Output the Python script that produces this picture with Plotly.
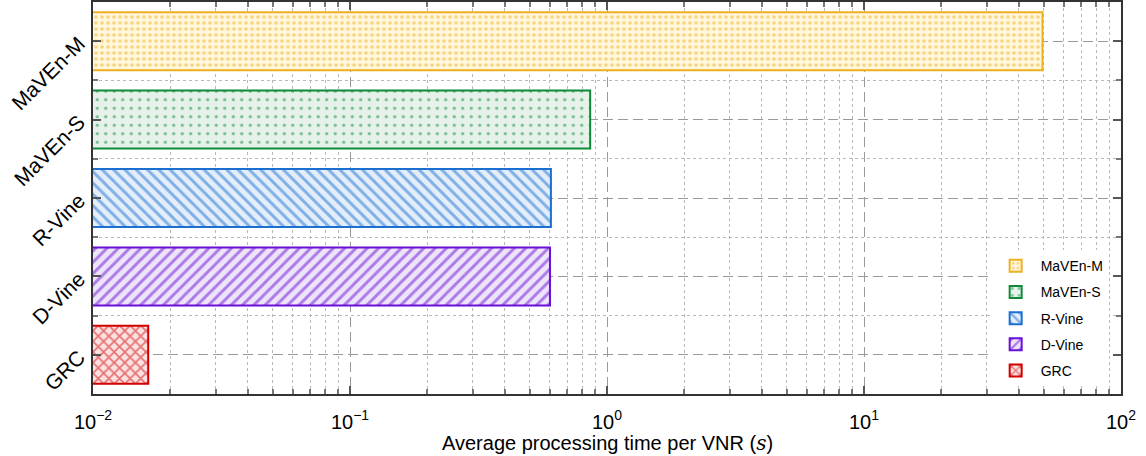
import plotly.graph_objects as go

methods = ["MaVEn-M", "MaVEn-S", "R-Vine", "D-Vine", "GRC"]
times = [49.5, 0.86, 0.605, 0.60, 0.0164]
line_colors = ["#EDB120", "#0F8A3C", "#1A6FD0", "#6A0FD6", "#D40000"]
fill_colors = ["rgba(255,246,220,1)", "rgba(230,242,233,1)", "rgba(228,238,250,1)",
               "rgba(238,228,250,1)", "rgba(250,226,226,1)"]
patterns = [".", ".", "\\", "/", "x"]
pattern_sizes = [6, 8.5, 8, 8, 7.5]
pattern_solidity = [0.28, 0.13, 0.36, 0.36, 0.4]

x_major = [0.01, 0.1, 1, 10, 100]
x_major_text = ["10<sup>−2</sup>", "10<sup>−1</sup>", "10<sup>0</sup>", "10<sup>1</sup>", "10<sup>2</sup>"]
x_minor = [k * d for d in [0.01, 0.1, 1, 10] for k in range(2, 10)]
x_title = "Average processing time per VNR (<span style='font-family:DejaVu Serif'><i>s</i></span>)"

n = len(methods)
ypos = [n - 1 - i for i in range(n)]

fig = go.Figure()
for i, m in enumerate(methods):
    fig.add_trace(go.Bar(
        x=[times[i]], y=[ypos[i]], orientation="h", name=m, width=0.74,
        legendgroup=m,
        marker=dict(
            color=fill_colors[i],
            line=dict(color=line_colors[i], width=2),
            pattern=dict(shape=patterns[i], fgcolor=line_colors[i], bgcolor=fill_colors[i],
                         size=pattern_sizes[i], solidity=pattern_solidity[i], fillmode="overlay"),
        ),
    ))

fig.add_annotation(text=x_title, xref="paper", yref="paper", x=0.5, y=0,
                   xanchor="center", yanchor="bottom", yshift=-63, showarrow=False,
                   font=dict(size=20))

fig.update_layout(
    width=1146, height=456,
    margin=dict(l=93, r=25, t=2, b=62),
    paper_bgcolor="white", plot_bgcolor="white",
    font=dict(family="Liberation Sans, Arial, sans-serif", size=20, color="black"),
    showlegend=True,
    barmode="overlay",
    legend=dict(x=0.988, xanchor="right", y=0.02, yanchor="bottom",
                bgcolor="white", borderwidth=0, font=dict(size=14),
                traceorder="grouped", itemwidth=40, tracegroupgap=5),
    xaxis=dict(
        type="log", range=[-2, 2], automargin=False,
        tickvals=x_major, ticktext=x_major_text, tickfont=dict(size=20),
        ticks="inside", ticklen=8, tickcolor="#555", tickwidth=1.5,
        ticklabelstandoff=9,
        showline=True, linecolor="#333", linewidth=1.5, mirror="allticks",
        showgrid=True, gridcolor="#9a9a9a", griddash="10px,5px", gridwidth=1,
        minor=dict(tickvals=x_minor, ticks="inside", ticklen=5, tickcolor="#777",
                   showgrid=True, gridcolor="#b8b8b8", griddash="dot", gridwidth=1),
        zeroline=False,
    ),
    yaxis=dict(
        range=[-0.5, n - 0.5], automargin=False,
        tickvals=ypos, ticktext=methods, tickangle=-45, tickfont=dict(size=21),
        ticks="inside", ticklen=8, tickcolor="#555", tickwidth=1.5,
        ticklabelstandoff=8,
        showline=True, linecolor="#333", linewidth=1.5, mirror="allticks",
        showgrid=True, gridcolor="#9a9a9a", griddash="10px,5px", gridwidth=1,
        minor=dict(tickvals=[p + 0.5 for p in ypos[1:]], ticks="inside", ticklen=5, tickcolor="#777",
                   showgrid=True, gridcolor="#b8b8b8", griddash="dot", gridwidth=1),
        zeroline=False,
    ),
)

fig.write_html("out.html")
